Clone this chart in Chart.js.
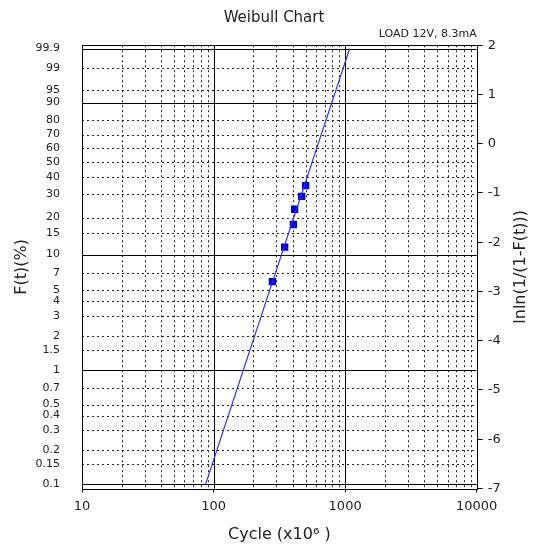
<!DOCTYPE html>
<html>
<head>
<meta charset="utf-8">
<script src="https://cdn.jsdelivr.net/npm/chart.js@4.4.0/dist/chart.umd.min.js"></script>
<style>
  html, body { margin: 0; padding: 0; background: #fff; }
  #wrap { width: 548px; height: 552px; }
</style>
</head>
<body>
<div id="wrap"><canvas id="weibull"></canvas></div>
<script>
// failure data (cycles x10^6) and lnln(1/(1-F))
var cycles = [280, 347, 404, 413, 467, 501];
var lnlnValues = [-2.80, -2.10, -1.64, -1.33, -1.07, -0.85];

// fitted Weibull line, from the 0.1% line to the 99.9% line
var fitCycles = [87, 1082];
var fitValues = [-6.91, 1.93];

var xTicks = [10, 100, 1000, 10000];
var fTicks = ['0.1', '0.15', '0.2', '0.3', '0.4', '0.5', '0.7', '1', '1.5', '2', '3', '4', '5', '7',
              '10', '15', '20', '30', '40', '50', '60', '70', '80', '90', '95', '99', '99.9'];
var fMajor = ['0.1', '1', '10', '90', '99.9'];

function lnln(pct) {
    return Math.log(-Math.log(1 - pct / 100));
}

Chart.defaults.font.family = '"DejaVu Sans", Verdana, sans-serif';
Chart.defaults.color = '#222';

// dashed / solid grid of the probability paper, plus the right-hand title
var weibullGrid = {
    id: 'weibullGrid',
    beforeDatasetsDraw: function (chart) {
        var ctx = chart.ctx, area = chart.chartArea;
        var xs = chart.scales.x, ys = chart.scales.yF;
        ctx.save();
        ctx.lineWidth = 1;

        function vLine(v, dashed) {
            var px = Math.round(xs.getPixelForValue(v)) + 0.5;
            ctx.setLineDash(dashed ? [2, 3] : []);
            ctx.strokeStyle = dashed ? '#222' : '#000';
            ctx.beginPath();
            ctx.moveTo(px, area.top);
            ctx.lineTo(px, area.bottom);
            ctx.stroke();
        }
        function hLine(v, dashed) {
            var py = Math.round(ys.getPixelForValue(v)) + 0.5;
            ctx.setLineDash(dashed ? [2, 3] : []);
            ctx.strokeStyle = dashed ? '#222' : '#000';
            ctx.beginPath();
            ctx.moveTo(area.left, py);
            ctx.lineTo(area.right, py);
            ctx.stroke();
        }

        for (var d = 0; d < xTicks.length - 1; d++) {
            for (var m = 2; m <= 9; m++) vLine(xTicks[d] * m, true);
        }
        fTicks.forEach(function (f) {
            if (fMajor.indexOf(f) < 0) hLine(lnln(+f), true);
        });
        xTicks.forEach(function (v) { vLine(v, false); });
        fMajor.forEach(function (f) { hLine(lnln(+f), false); });

        ctx.setLineDash([]);
        ctx.strokeStyle = '#000';
        var l = Math.round(area.left) + 0.5, t = Math.round(area.top) + 0.5;
        ctx.strokeRect(l, t, Math.round(area.right) + 0.5 - l, Math.round(area.bottom) + 0.5 - t);

        // right axis title reads bottom-to-top like the left one
        ctx.translate(area.right + 44, (area.top + area.bottom) / 2);
        ctx.rotate(-Math.PI / 2);
        ctx.fillStyle = '#222';
        ctx.font = '16px "DejaVu Sans", Verdana, sans-serif';
        ctx.textAlign = 'center';
        ctx.textBaseline = 'middle';
        ctx.fillText('lnln(1/(1-F(t)))', 0, 0);
        ctx.restore();
    }
};

var points = cycles.map(function (c, i) { return { x: c, y: lnlnValues[i] }; });
var fit = fitCycles.map(function (c, i) { return { x: c, y: fitValues[i] }; });

new Chart(document.getElementById('weibull'), {
    type: 'scatter',
    data: {
        datasets: [
            {
                data: fit,
                showLine: true,
                borderColor: '#2b2bff',
                borderWidth: 1.2,
                pointRadius: 0,
                xAxisID: 'x',
                yAxisID: 'y'
            },
            {
                data: points,
                pointStyle: 'rect',
                pointRadius: 5.2,
                backgroundColor: '#0000dd',
                borderColor: '#0000dd',
                borderWidth: 0,
                xAxisID: 'x',
                yAxisID: 'y'
            }
        ]
    },
    options: {
        responsive: true,
        maintainAspectRatio: false,
        animation: false,
        layout: { padding: 0 },
        plugins: {
            legend: { display: false },
            tooltip: { enabled: false },
            title: {
                display: true,
                text: 'Weibull Chart',
                font: { size: 15, weight: 'normal' },
                padding: { top: 9, bottom: 1 }
            },
            subtitle: {
                display: true,
                text: 'LOAD 12V, 8.3mA',
                align: 'end',
                fullSize: false,
                font: { size: 11 },
                padding: { top: 0, bottom: 4 }
            }
        },
        scales: {
            x: {
                type: 'logarithmic',
                position: 'bottom',
                min: 10,
                max: 10000,
                afterBuildTicks: function (scale) {
                    scale.ticks = xTicks.map(function (v) { return { value: v }; });
                },
                afterFit: function (scale) { scale.height = 63.5; },
                ticks: {
                    autoSkip: false,
                    maxRotation: 0,
                    padding: 6,
                    font: { size: 13 },
                    callback: function (v) { return String(v); }
                },
                grid: { drawOnChartArea: false, tickLength: 4, color: '#000' },
                border: { display: false },
                title: {
                    display: true,
                    text: 'Cycle (x10\u2076 )',
                    font: { size: 16 },
                    padding: { top: 10, bottom: 8 }
                }
            },
            yF: {
                type: 'linear',
                position: 'left',
                min: -7,
                max: 2,
                afterBuildTicks: function (scale) {
                    scale.ticks = fTicks.map(function (f) { return { value: lnln(+f) }; });
                },
                afterFit: function (scale) { scale.width = 82; },
                ticks: {
                    autoSkip: false,
                    padding: 22,
                    font: { size: 11 },
                    callback: function (v, i) { return fTicks[i]; }
                },
                grid: { drawOnChartArea: false, drawTicks: false },
                border: { display: false },
                title: {
                    display: true,
                    text: 'F(t)(%)',
                    font: { size: 16 },
                    padding: { top: 12, bottom: 0 }
                }
            },
            y: {
                type: 'linear',
                position: 'right',
                min: -7,
                max: 2,
                afterFit: function (scale) { scale.width = 71.3; },
                ticks: { stepSize: 1, padding: 5, font: { size: 13 } },
                grid: { drawOnChartArea: false, tickLength: 6, color: '#000' },
                border: { display: false },
                title: { display: false }
            }
        }
    },
    plugins: [weibullGrid]
});
</script>
</body>
</html>
